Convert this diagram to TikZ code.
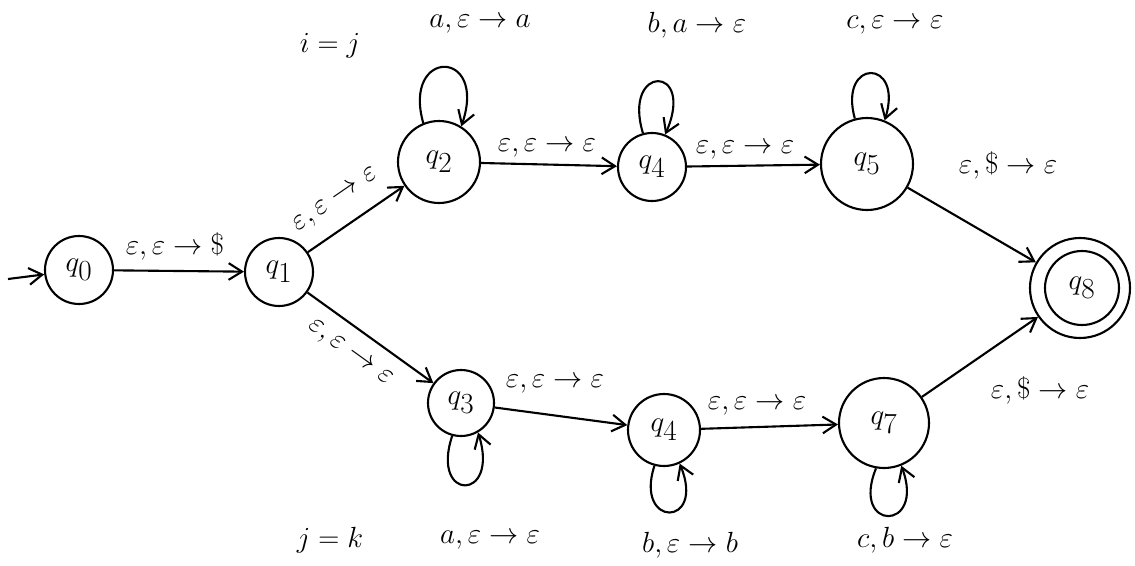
\documentclass[tikz,border=0pt]{standalone}
\usetikzlibrary{arrows.meta}
\begin{document}
\begin{tikzpicture}[x=0.3mm,y=-0.3mm,
  st/.style={draw,circle,line width=1.8pt,inner sep=0pt,font=\fontsize{40}{44}\selectfont},
  tr/.style={line width=1.8pt,-{Straight Barb[length=4mm,width=5mm]}},
  lab/.style={font=\fontsize{24}{28}\selectfont,inner sep=1pt}]
\useasboundingbox (0,0) rectangle (1135,565);
% states
\node[st,minimum size=20.4mm] (q0) at (79,270) {$q_0$};
\node[st,minimum size=20.4mm] (q1) at (279,272) {$q_1$};
\node[st,minimum size=24.6mm] (q2) at (439,162) {$q_2$};
\node[st,minimum size=20.4mm] (q4) at (652,167) {$q_4$};
\node[st,minimum size=27.6mm] (q5) at (867,164) {$q_5$};
\node[st,minimum size=19.8mm] (q3) at (461,403) {$q_3$};
\node[st,minimum size=21.6mm] (q6) at (664,430) {$q_4$};
\node[st,minimum size=27mm] (q7) at (884,423) {$q_7$};
\node[st,minimum size=30mm] (q8) at (1080,288) {};
\node[st,minimum size=22.2mm] (q8i) at (1082,288) {$q_8$};
% start
\coordinate (start) at (8,279);
\draw[tr] (start) -- (q0);
% transitions
\draw[tr] (q0) -- (q1);
\draw[tr] (q1) -- node[lab,sloped,above=13pt,pos=0.45] (l12) {$\varepsilon,\varepsilon\to\varepsilon$} (q2);
\draw[tr] (q1) -- node[lab,sloped,below=12pt,pos=0.45] (l13) {$\varepsilon,\varepsilon\to\varepsilon$} (q3);
\draw[tr] (q2) -- (q4);
\draw[tr] (q4) -- (q5);
\draw[tr] (q3) -- (q6);
\draw[tr] (q6) -- (q7);
\draw[tr] (q5) -- (q8);
\draw[tr] (q7) -- (q8);
% self loops
\draw[tr] (q2.112) .. controls (402,48) and (488,48) .. (q2.58);
\draw[tr] (q4.105) .. controls (622,64) and (696,64) .. (q4.68);
\draw[tr] (q5.105) .. controls (838,58) and (904,58) .. (q5.68);
\draw[tr] (q3.-105) .. controls (430,502) and (500,502) .. (q3.-60);
\draw[tr] (q6.-105) .. controls (634,528) and (706,528) .. (q6.-65);
\draw[tr] (q7.-100) .. controls (850,532) and (926,532) .. (q7.-68);
% labels
\node[lab] (l01) at (175,246) {$\varepsilon,\varepsilon\to\$$};
\node[lab] (l24) at (547,148) {$\varepsilon,\varepsilon\to\varepsilon$};
\node[lab] (l45) at (745,150) {$\varepsilon,\varepsilon\to\varepsilon$};
\node[lab] (l36) at (555,384) {$\varepsilon,\varepsilon\to\varepsilon$};
\node[lab] (l67) at (757,406) {$\varepsilon,\varepsilon\to\varepsilon$};
\node[lab] (l58) at (1008,165) {$\varepsilon,\$\to\varepsilon$};
\node[lab] (l78) at (1040,390) {$\varepsilon,\$\to\varepsilon$};
\node[lab] (ij) at (330,46) {$i=j$};
\node[lab] (l22) at (480,24) {$a,\varepsilon\to a$};
\node[lab] (l44) at (697,25) {$b,a\to\varepsilon$};
\node[lab] (l55) at (895,25) {$c,\varepsilon\to\varepsilon$};
\node[lab] (jk) at (330,540) {$j=k$};
\node[lab] (l33) at (490,540) {$a,\varepsilon\to\varepsilon$};
\node[lab] (l66) at (690,545) {$b,\varepsilon\to b$};
\node[lab] (l77) at (905,540) {$c,b\to\varepsilon$};
\end{tikzpicture}
\end{document}
